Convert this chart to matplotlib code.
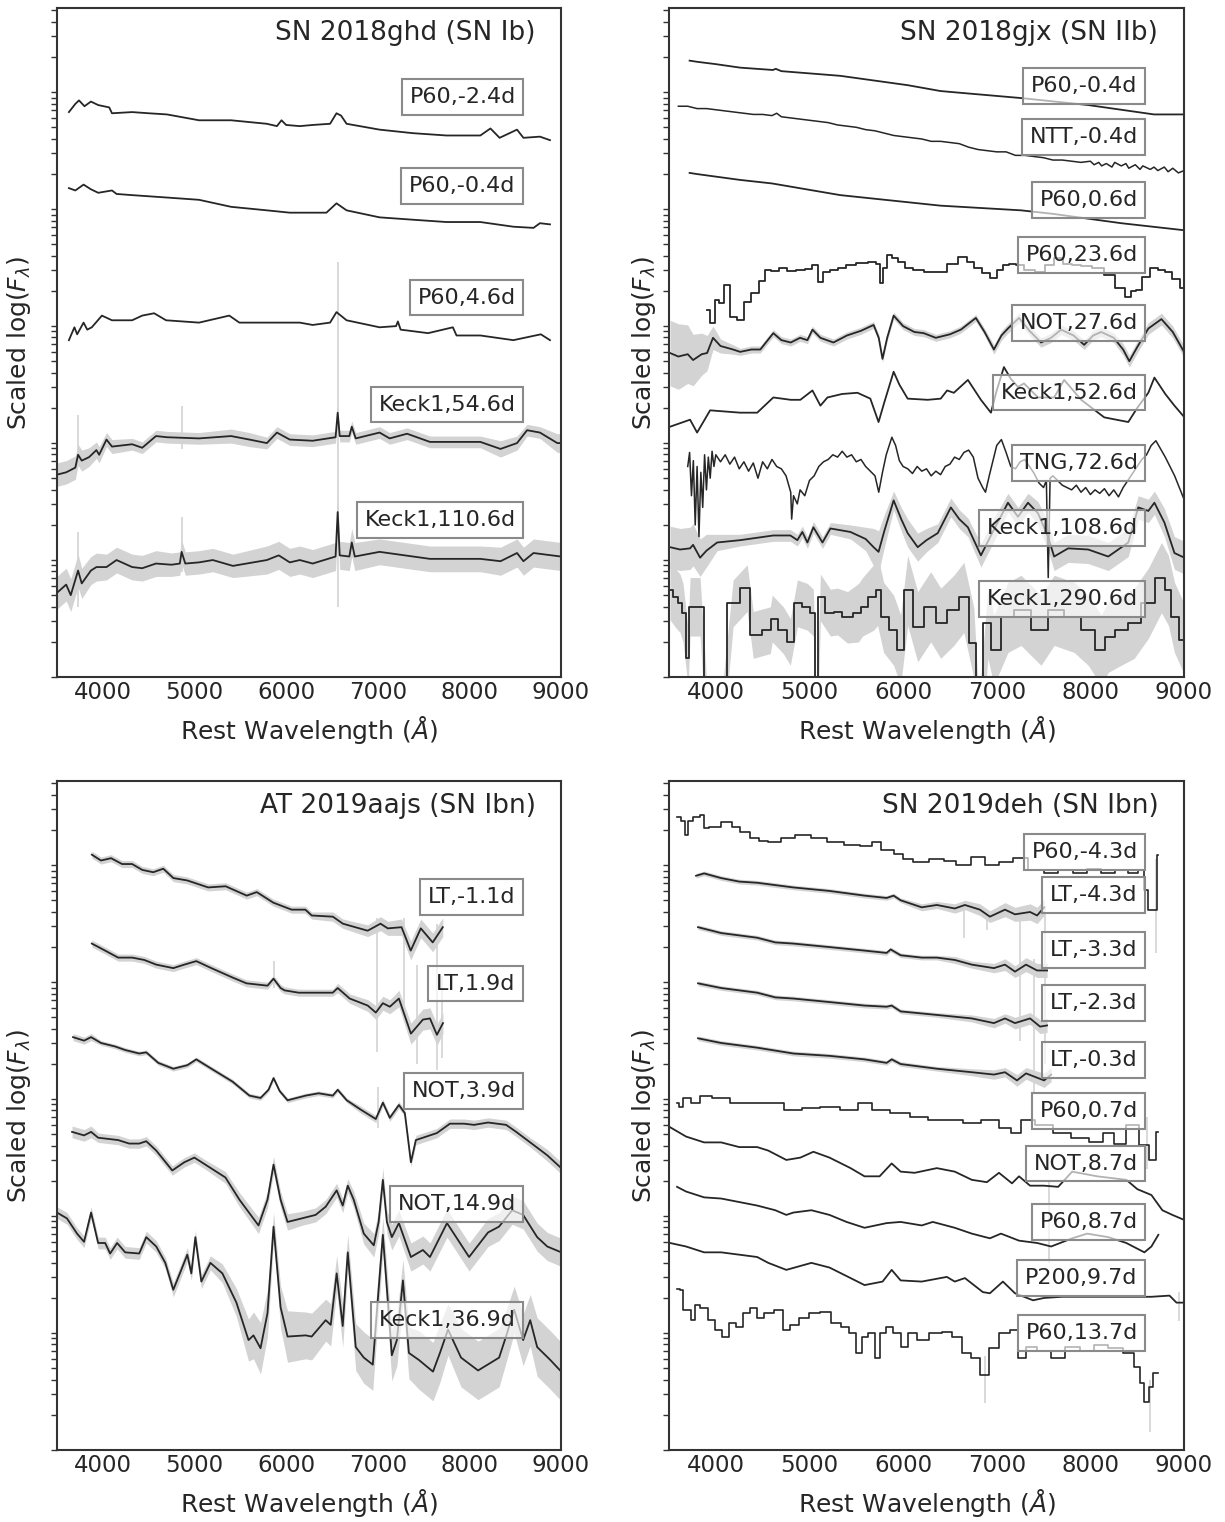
import matplotlib.pyplot as plt
import numpy as np
from matplotlib.ticker import LogLocator, NullFormatter

# Spectral sequences, log10 of the scaled flux.
# Rows are (rest wavelength [A], log flux) or
# (rest wavelength, log flux, scatter of the unbinned spectrum in dex).

# ---- SN 2018ghd (SN Ib) ----
ghd_p60_m24 = [(3630, 4.83), (3700, 4.90), (3740, 4.93), (3800, 4.88), (3870, 4.92), (3950, 4.89),
               (4070, 4.87), (4100, 4.82), (4320, 4.83), (4500, 4.82), (4700, 4.81), (5050, 4.76),
               (5400, 4.76), (5790, 4.73), (5900, 4.71), (5950, 4.76), (6000, 4.72), (6150, 4.71),
               (6290, 4.72), (6480, 4.73), (6550, 4.82), (6600, 4.80), (6660, 4.73), (7020, 4.68),
               (7380, 4.65), (7750, 4.63), (8120, 4.63), (8230, 4.69), (8330, 4.61), (8520, 4.68),
               (8590, 4.61), (8770, 4.62), (8880, 4.59)]
ghd_p60_m04 = [(3630, 4.18), (3700, 4.16), (3790, 4.21), (3870, 4.17), (3950, 4.14), (4100, 4.16),
               (4150, 4.13), (4320, 4.12), (4690, 4.10), (5050, 4.08), (5400, 4.02), (5790, 3.99),
               (6040, 3.97), (6290, 3.97), (6440, 3.97), (6550, 4.05), (6660, 3.99), (7020, 3.93),
               (7380, 3.91), (7750, 3.89), (8120, 3.89), (8480, 3.85), (8700, 3.84), (8770, 3.88),
               (8880, 3.87)]
ghd_p60_p46 = [(3630, 2.88), (3690, 2.99), (3720, 2.93), (3790, 3.03), (3830, 2.97), (3880, 2.99),
               (3990, 3.09), (4100, 3.05), (4320, 3.05), (4430, 3.09), (4560, 3.11), (4690, 3.05),
               (5050, 3.03), (5380, 3.09), (5490, 3.03), (5790, 3.03), (6150, 3.03), (6290, 3.01),
               (6480, 3.03), (6550, 3.12), (6660, 3.05), (7020, 2.99), (7200, 3.00), (7220, 3.04),
               (7250, 2.97), (7550, 2.94), (7820, 2.99), (7860, 2.92), (8120, 2.92), (8480, 2.88),
               (8780, 2.93), (8880, 2.88)]
ghd_keck1_546 = [(3500, 1.73, 0.10), (3600, 1.75, 0.10), (3700, 1.79, 0.10), (3730, 1.90, 0.09),
                 (3770, 1.85, 0.09), (3850, 1.88, 0.08), (3930, 1.94, 0.07), (3960, 1.90, 0.07),
                 (4040, 2.03, 0.06), (4100, 1.97, 0.06), (4320, 1.99, 0.05), (4430, 1.96, 0.05),
                 (4580, 2.06, 0.05), (4700, 2.05, 0.05), (5050, 2.04, 0.05), (5400, 2.06, 0.06),
                 (5600, 2.03, 0.06), (5790, 2.00, 0.05), (5900, 2.09, 0.05), (6040, 2.03, 0.05),
                 (6290, 2.02, 0.05), (6540, 2.05, 0.05), (6563, 2.26, 0.05), (6585, 2.06, 0.05),
                 (6690, 2.06, 0.05), (6717, 2.14, 0.05), (6760, 2.04, 0.05), (7020, 2.09, 0.05),
                 (7130, 2.04, 0.05), (7320, 2.08, 0.05), (7570, 2.01, 0.05), (8120, 2.01, 0.05),
                 (8340, 1.95, 0.07), (8520, 2.00, 0.06), (8630, 2.11, 0.05), (8770, 2.09, 0.05),
                 (8960, 2.00, 0.08), (9000, 2.00, 0.08)]
ghd_keck1_1106 = [(3500, 0.72, 0.14), (3600, 0.79, 0.14), (3650, 0.70, 0.14), (3730, 0.91, 0.14),
                  (3770, 0.80, 0.13), (3870, 0.91, 0.12), (3930, 0.94, 0.12), (4040, 0.94, 0.11),
                  (4150, 1.00, 0.11), (4320, 0.94, 0.11), (4430, 0.93, 0.11), (4580, 0.97, 0.11),
                  (4750, 0.96, 0.10), (4840, 0.97, 0.10), (4860, 1.07, 0.10), (4900, 0.97, 0.10),
                  (5050, 0.98, 0.10), (5200, 1.00, 0.10), (5420, 0.95, 0.10), (5790, 1.00, 0.12),
                  (5920, 1.04, 0.12), (6040, 0.98, 0.12), (6150, 1.00, 0.12), (6290, 0.97, 0.12),
                  (6540, 1.03, 0.12), (6563, 1.41, 0.12), (6585, 1.04, 0.12), (6690, 1.03, 0.12),
                  (6717, 1.15, 0.12), (6750, 1.03, 0.12), (7020, 1.07, 0.11), (7570, 1.01, 0.11),
                  (8120, 1.01, 0.11), (8340, 0.99, 0.12), (8520, 1.06, 0.12), (8590, 0.99, 0.12),
                  (8700, 1.06, 0.12), (9000, 1.03, 0.12)]
# narrow lines / bad pixels of the unbinned spectra: (wavelength, log low, log high)
ghd_narrow = [(6563, 2.10, 3.55), (6563, 0.60, 2.20), (3730, 1.80, 2.24), (4861, 1.95, 2.32),
              (3730, 0.60, 1.24), (4861, 0.90, 1.37)]

# ---- SN 2018gjx (SN IIb) ----
gjx_p60_m04 = [(3720, 5.27), (3800, 5.26), (4000, 5.24), (4260, 5.21), (4610, 5.19), (4640, 5.20),
               (4700, 5.18), (5330, 5.14), (6050, 5.06), (6400, 5.01), (6540, 5.00), (7260, 4.95),
               (7980, 4.89), (8680, 4.81), (9000, 4.81)]
gjx_ntt_m04 = [(3600, 4.88), (3700, 4.88), (3800, 4.86), (3900, 4.86), (4000, 4.85), (4100, 4.84),
               (4200, 4.83), (4300, 4.82), (4400, 4.81), (4500, 4.81), (4600, 4.80), (4650, 4.82),
               (4700, 4.79), (4800, 4.78), (4900, 4.77), (5000, 4.76), (5100, 4.75), (5200, 4.74),
               (5300, 4.72), (5400, 4.71), (5500, 4.70), (5600, 4.68), (5700, 4.67), (5800, 4.65),
               (5900, 4.63), (6000, 4.62), (6100, 4.61), (6200, 4.60), (6300, 4.58), (6400, 4.58),
               (6500, 4.57), (6600, 4.56), (6700, 4.53), (6800, 4.51), (6900, 4.50), (7000, 4.49),
               (7100, 4.49), (7200, 4.46), (7300, 4.46), (7400, 4.45), (7500, 4.44), (7600, 4.42),
               (7700, 4.42), (7800, 4.41), (7900, 4.40), (8000, 4.41), (8040, 4.38), (8090, 4.40),
               (8120, 4.37), (8170, 4.39), (8230, 4.36), (8260, 4.40), (8330, 4.37), (8380, 4.39),
               (8410, 4.35), (8480, 4.38), (8530, 4.34), (8560, 4.37), (8640, 4.34), (8680, 4.36),
               (8720, 4.33), (8790, 4.36), (8830, 4.32), (8880, 4.35), (8940, 4.31), (9000, 4.33)]
gjx_p60_p06 = [(3720, 4.31), (3800, 4.30), (4260, 4.25), (4600, 4.22), (5330, 4.12), (6400, 4.03),
               (7260, 3.99), (7600, 3.96), (8330, 3.88), (9000, 3.82)]
gjx_p60_p236 = [(3907, 3.14), (3971, 3.03), (4014, 3.22), (4060, 3.20), (4121, 3.35), (4185, 3.08),
                (4260, 3.05), (4335, 3.21), (4421, 3.28), (4507, 3.39), (4550, 3.48), (4630, 3.47),
                (4721, 3.50), (4803, 3.47), (4903, 3.48), (5000, 3.49), (5064, 3.52), (5117, 3.38),
                (5180, 3.46), (5256, 3.48), (5350, 3.50), (5438, 3.52), (5560, 3.54), (5685, 3.55),
                (5728, 3.53), (5771, 3.37), (5810, 3.50), (5846, 3.61), (5910, 3.58), (5974, 3.55),
                (6060, 3.50), (6156, 3.48), (6280, 3.46), (6402, 3.46), (6530, 3.53), (6649, 3.59),
                (6720, 3.55), (6799, 3.50), (6880, 3.45), (6970, 3.41), (7030, 3.48), (7099, 3.52),
                (7170, 3.53), (7238, 3.52), (7350, 3.48), (7473, 3.46), (7560, 3.52), (7655, 3.58),
                (7750, 3.53), (7848, 3.52), (7960, 3.51), (8083, 3.50), (8200, 3.44), (8330, 3.33),
                (8405, 3.25), (8460, 3.30), (8512, 3.31), (8600, 3.42), (8684, 3.50), (8760, 3.48),
                (8834, 3.46), (8920, 3.40), (9000, 3.33)]
gjx_not_276 = [(3511, 2.77, 0.28), (3600, 2.74, 0.28), (3700, 2.76, 0.25), (3757, 2.71, 0.22),
               (3850, 2.76, 0.18), (3907, 2.77, 0.15), (3970, 2.90, 0.10), (4050, 2.83, 0.06),
               (4185, 2.80, 0.04), (4260, 2.78, 0.03), (4380, 2.80, 0.03), (4475, 2.80, 0.03),
               (4614, 2.94, 0.03), (4700, 2.88, 0.03), (4800, 2.86, 0.03), (4900, 2.90, 0.03),
               (4978, 2.88, 0.03), (5032, 2.97, 0.03), (5117, 2.90, 0.03), (5256, 2.86, 0.03),
               (5400, 2.92, 0.03), (5550, 2.96, 0.03), (5685, 3.01, 0.03), (5740, 2.90, 0.03),
               (5780, 2.72, 0.03), (5830, 2.90, 0.03), (5899, 3.09, 0.03), (6000, 3.00, 0.03),
               (6120, 2.95, 0.03), (6220, 2.94, 0.03), (6349, 2.90, 0.03), (6500, 2.93, 0.03),
               (6617, 2.97, 0.03), (6777, 3.07, 0.03), (6870, 2.95, 0.03), (6970, 2.80, 0.04),
               (7050, 2.92, 0.04), (7120, 2.98, 0.04), (7238, 3.07, 0.04), (7350, 2.96, 0.04),
               (7473, 2.86, 0.04), (7580, 2.90, 0.04), (7688, 2.97, 0.04), (7820, 2.92, 0.04),
               (7934, 2.84, 0.04), (8030, 2.92, 0.04), (8116, 2.95, 0.04), (8250, 2.90, 0.04),
               (8350, 2.80, 0.05), (8416, 2.70, 0.05), (8500, 2.82, 0.05), (8620, 2.98, 0.05),
               (8759, 3.06, 0.05), (8880, 2.95, 0.05), (9000, 2.78, 0.05)]
gjx_keck1_526 = [(3511, 2.14), (3725, 2.20), (3800, 2.09), (3939, 2.28), (4100, 2.27), (4260, 2.26),
                 (4442, 2.26), (4614, 2.39), (4800, 2.37), (4903, 2.37), (5032, 2.45), (5117, 2.32),
                 (5192, 2.39), (5350, 2.42), (5513, 2.43), (5650, 2.38), (5738, 2.18), (5800, 2.35),
                 (5899, 2.61), (5960, 2.50), (6049, 2.38), (6263, 2.37), (6402, 2.38), (6470, 2.45),
                 (6542, 2.43), (6692, 2.54), (6831, 2.37), (6938, 2.26), (7000, 2.45), (7077, 2.65),
                 (7150, 2.55), (7227, 2.48), (7291, 2.51), (7441, 2.39), (7613, 2.39), (7720, 2.54),
                 (7902, 2.37), (8148, 2.22), (8405, 2.18), (8500, 2.30), (8619, 2.43), (8684, 2.56),
                 (8800, 2.42), (8898, 2.32), (9005, 2.22)]
gjx_tng_726 = [(3700, 1.80), (3720, 1.92), (3740, 1.55), (3760, 1.85), (3780, 1.30), (3800, 1.80),
               (3820, 1.20), (3840, 1.75), (3860, 1.45), (3880, 1.90), (3900, 1.60), (3920, 1.88),
               (3940, 1.70), (3960, 1.93), (3980, 1.80), (4000, 1.90), (4050, 1.84), (4100, 1.90),
               (4150, 1.82), (4200, 1.88), (4250, 1.78), (4300, 1.84), (4350, 1.76), (4400, 1.83),
               (4450, 1.70), (4500, 1.84), (4550, 1.78), (4600, 1.86), (4650, 1.80), (4700, 1.78),
               (4750, 1.72), (4800, 1.58), (4810, 1.35), (4830, 1.55), (4870, 1.48), (4900, 1.60),
               (4950, 1.55), (5000, 1.68), (5050, 1.72), (5100, 1.80), (5150, 1.84), (5200, 1.86),
               (5250, 1.90), (5300, 1.88), (5350, 1.93), (5400, 1.88), (5450, 1.90), (5500, 1.84),
               (5550, 1.86), (5600, 1.80), (5650, 1.76), (5700, 1.72), (5740, 1.58), (5780, 1.75),
               (5820, 1.90), (5880, 2.05), (5920, 1.98), (5960, 1.85), (6000, 1.80), (6050, 1.78),
               (6100, 1.74), (6150, 1.80), (6200, 1.76), (6250, 1.78), (6300, 1.72), (6350, 1.76),
               (6400, 1.73), (6450, 1.80), (6500, 1.82), (6550, 1.88), (6600, 1.86), (6650, 1.92),
               (6700, 1.94), (6750, 1.88), (6800, 1.70), (6850, 1.62), (6880, 1.58), (6920, 1.72),
               (6960, 1.85), (7000, 1.98), (7050, 2.03), (7100, 1.92), (7150, 1.80), (7200, 1.78),
               (7250, 1.84), (7300, 1.86), (7350, 1.80), (7400, 1.74), (7450, 1.66), (7500, 1.62),
               (7530, 1.68), (7550, 0.85), (7570, 1.70), (7600, 1.72), (7650, 1.68), (7700, 1.64),
               (7750, 1.62), (7800, 1.60), (7850, 1.64), (7900, 1.58), (7950, 1.62), (8000, 1.56),
               (8050, 1.60), (8100, 1.57), (8150, 1.61), (8200, 1.55), (8250, 1.60), (8300, 1.54),
               (8350, 1.62), (8400, 1.68), (8450, 1.74), (8500, 1.80), (8550, 1.86), (8600, 1.90),
               (8650, 1.98), (8700, 2.02), (8750, 1.95), (8800, 1.88), (8850, 1.80), (8900, 1.72),
               (8950, 1.62), (9000, 1.52)]
gjx_keck1_1086 = [(3511, 1.11, 0.18), (3618, 1.09, 0.18), (3725, 1.10, 0.18), (3757, 1.13, 0.18),
                  (3832, 1.02, 0.16), (3900, 1.08, 0.14), (4014, 1.15, 0.07), (4260, 1.17, 0.05),
                  (4614, 1.21, 0.05), (4796, 1.21, 0.05), (4871, 1.17, 0.05), (4924, 1.24, 0.05),
                  (4978, 1.15, 0.05), (5042, 1.28, 0.05), (5139, 1.15, 0.05), (5224, 1.27, 0.05),
                  (5438, 1.24, 0.06), (5600, 1.18, 0.10), (5685, 1.11, 0.16), (5738, 1.07, 0.18),
                  (5800, 1.25, 0.14), (5899, 1.51, 0.08), (5980, 1.35, 0.10), (6049, 1.23, 0.12),
                  (6156, 1.11, 0.12), (6250, 1.17, 0.10), (6370, 1.23, 0.08), (6510, 1.45, 0.08),
                  (6600, 1.35, 0.08), (6692, 1.28, 0.08), (6831, 1.04, 0.10), (6970, 1.26, 0.10),
                  (7120, 1.49, 0.08), (7227, 1.37, 0.08), (7334, 1.49, 0.08), (7441, 1.40, 0.10),
                  (7548, 1.20, 0.12), (7613, 1.03, 0.12), (7763, 1.10, 0.12), (7977, 1.09, 0.12),
                  (8191, 1.03, 0.12), (8405, 1.15, 0.12), (8512, 1.45, 0.10), (8619, 1.42, 0.10),
                  (8684, 1.49, 0.10), (8791, 1.32, 0.12), (8898, 1.06, 0.14), (9005, 1.02, 0.14)]
gjx_keck1_2906 = [(3511, 0.74, 0.25), (3564, 0.68, 0.25), (3618, 0.63, 0.25), (3650, 0.55, 0.25),
                  (3704, 0.16, 0.25), (3725, 0.60, 0.25), (3832, 0.60, 0.25), (3918, -0.50, 0.25),
                  (4050, -0.50, 0.25), (4185, 0.63, 0.20), (4335, 0.76, 0.20), (4400, 0.36, 0.20),
                  (4582, 0.40, 0.20), (4603, 0.50, 0.20), (4721, 0.40, 0.20), (4796, 0.30, 0.20),
                  (4871, 0.63, 0.20), (4978, 0.60, 0.20), (5042, 0.55, 0.20), (5074, -0.50, 0.20),
                  (5117, 0.68, 0.20), (5224, 0.55, 0.20), (5299, 0.56, 0.20), (5406, 0.51, 0.22),
                  (5524, 0.55, 0.25), (5567, 0.60, 0.25), (5685, 0.68, 0.28), (5728, 0.74, 0.30),
                  (5792, 0.51, 0.30), (5899, 0.40, 0.30), (5974, 0.23, 0.30), (6049, 0.74, 0.30),
                  (6156, 0.43, 0.30), (6295, 0.60, 0.30), (6402, 0.46, 0.30), (6542, 0.57, 0.30),
                  (6649, 0.68, 0.30), (6756, 0.29, 0.30), (6809, -0.50, 0.30), (6906, 0.46, 0.30),
                  (6970, 0.23, 0.30), (7120, 0.51, 0.30), (7259, 0.57, 0.30), (7473, 0.40, 0.30),
                  (7613, 0.57, 0.30), (7827, 0.51, 0.30), (7977, 0.40, 0.30), (8116, 0.23, 0.30),
                  (8191, 0.34, 0.30), (8330, 0.40, 0.30), (8469, 0.46, 0.30), (8619, 0.63, 0.30),
                  (8759, 0.85, 0.30), (8834, 0.74, 0.30), (8898, 0.51, 0.30), (9005, 0.32, 0.30)]

# ---- AT 2019aajs (SN Ibn) ----
aajs_lt_m11 = [(3880, 5.09, 0.03), (3980, 5.04, 0.03), (4090, 5.06, 0.03), (4210, 5.01, 0.03),
               (4320, 5.01, 0.03), (4430, 4.96, 0.03), (4550, 4.94, 0.03), (4660, 4.97, 0.03),
               (4770, 4.89, 0.03), (4920, 4.87, 0.03), (5150, 4.81, 0.03), (5340, 4.82, 0.03),
               (5570, 4.74, 0.03), (5680, 4.77, 0.03), (5860, 4.68, 0.03), (6060, 4.62, 0.03),
               (6210, 4.62, 0.03), (6280, 4.57, 0.03), (6510, 4.56, 0.04), (6620, 4.50, 0.04),
               (6890, 4.44, 0.05), (7030, 4.50, 0.06), (7110, 4.46, 0.06), (7260, 4.47, 0.07),
               (7360, 4.27, 0.08), (7470, 4.46, 0.08), (7600, 4.34, 0.08), (7710, 4.47, 0.08)]
aajs_lt_p19 = [(3880, 4.33, 0.03), (4025, 4.27, 0.03), (4167, 4.21, 0.03), (4321, 4.21, 0.03),
               (4452, 4.19, 0.03), (4583, 4.15, 0.03), (4769, 4.12, 0.03), (4889, 4.15, 0.03),
               (5020, 4.18, 0.03), (5185, 4.12, 0.03), (5415, 4.04, 0.03), (5568, 3.99, 0.03),
               (5797, 3.97, 0.03), (5863, 4.03, 0.03), (5940, 3.95, 0.03), (5983, 3.93, 0.03),
               (6137, 3.91, 0.03), (6509, 3.91, 0.03), (6563, 3.95, 0.04), (6694, 3.86, 0.04),
               (6891, 3.80, 0.05), (6979, 3.74, 0.06), (7056, 3.82, 0.06), (7132, 3.79, 0.06),
               (7231, 3.86, 0.07), (7362, 3.56, 0.09), (7493, 3.68, 0.09), (7570, 3.69, 0.09),
               (7646, 3.55, 0.09), (7712, 3.65, 0.09)]
aajs_not_39 = [(3675, 3.53, 0.03), (3795, 3.50, 0.03), (3872, 3.53, 0.03), (3981, 3.48, 0.02),
               (4135, 3.45, 0.02), (4244, 3.42, 0.02), (4397, 3.39, 0.02), (4474, 3.40, 0.02),
               (4605, 3.31, 0.02), (4769, 3.26, 0.02), (4922, 3.29, 0.02), (5020, 3.34, 0.02),
               (5185, 3.26, 0.02), (5415, 3.15, 0.02), (5600, 3.03, 0.02), (5721, 3.01, 0.02),
               (5808, 3.08, 0.02), (5863, 3.18, 0.02), (5929, 3.07, 0.02), (6016, 2.99, 0.02),
               (6213, 3.03, 0.02), (6355, 3.05, 0.02), (6509, 3.03, 0.02), (6563, 3.08, 0.02),
               (6662, 2.99, 0.02), (6815, 2.91, 0.03), (6979, 2.83, 0.03), (7056, 2.97, 0.03),
               (7132, 2.84, 0.03), (7231, 2.95, 0.03), (7296, 2.88, 0.03), (7362, 2.46, 0.04),
               (7416, 2.65, 0.04), (7646, 2.71, 0.04), (7788, 2.79, 0.04), (7942, 2.79, 0.04),
               (8051, 2.78, 0.04), (8204, 2.80, 0.04), (8401, 2.78, 0.04), (8511, 2.72, 0.04),
               (8664, 2.63, 0.04), (8850, 2.52, 0.05), (9003, 2.41, 0.05)]
aajs_not_149 = [(3664, 2.72, 0.05), (3795, 2.69, 0.05), (3872, 2.72, 0.05), (3949, 2.67, 0.04),
                (4167, 2.65, 0.04), (4288, 2.62, 0.04), (4397, 2.62, 0.04), (4474, 2.64, 0.04),
                (4583, 2.56, 0.04), (4758, 2.39, 0.04), (4889, 2.46, 0.04), (4999, 2.50, 0.04),
                (5119, 2.44, 0.04), (5338, 2.33, 0.05), (5491, 2.14, 0.06), (5699, 1.92, 0.07),
                (5797, 2.14, 0.07), (5863, 2.44, 0.07), (5940, 2.14, 0.07), (6016, 1.95, 0.07),
                (6170, 1.98, 0.06), (6322, 2.01, 0.06), (6432, 2.08, 0.06), (6552, 2.22, 0.06),
                (6618, 2.09, 0.06), (6673, 2.26, 0.06), (6738, 2.14, 0.07), (6848, 1.85, 0.09),
                (6957, 1.75, 0.10), (7010, 1.95, 0.10), (7056, 2.31, 0.10), (7100, 1.95, 0.10),
                (7154, 1.82, 0.11), (7231, 1.94, 0.11), (7362, 1.65, 0.12), (7493, 1.71, 0.12),
                (7570, 1.65, 0.12), (7756, 1.94, 0.12), (7997, 1.65, 0.12), (8204, 1.86, 0.12),
                (8324, 1.91, 0.12), (8467, 2.05, 0.12), (8587, 2.01, 0.12), (8740, 1.82, 0.12),
                (8850, 1.74, 0.12), (9003, 1.69, 0.12)]
aajs_keck1_369 = [(3500, 2.03, 0.05), (3609, 1.98, 0.05), (3719, 1.85, 0.05), (3795, 1.78, 0.05),
                  (3872, 2.03, 0.05), (3949, 1.77, 0.05), (4025, 1.77, 0.05), (4080, 1.68, 0.05),
                  (4156, 1.77, 0.05), (4244, 1.69, 0.05), (4397, 1.68, 0.05), (4474, 1.82, 0.05),
                  (4583, 1.74, 0.05), (4682, 1.60, 0.05), (4769, 1.37, 0.06), (4846, 1.52, 0.06),
                  (4922, 1.67, 0.06), (4966, 1.51, 0.06), (5010, 1.82, 0.06), (5075, 1.44, 0.06),
                  (5174, 1.60, 0.06), (5305, 1.51, 0.08), (5458, 1.26, 0.12), (5590, 0.94, 0.18),
                  (5644, 0.98, 0.20), (5721, 0.87, 0.22), (5797, 1.17, 0.20), (5863, 1.91, 0.12),
                  (5940, 1.22, 0.18), (6016, 0.97, 0.22), (6213, 0.98, 0.20), (6279, 0.97, 0.20),
                  (6432, 1.11, 0.18), (6487, 1.07, 0.18), (6552, 1.51, 0.15), (6618, 1.06, 0.18),
                  (6673, 1.69, 0.15), (6760, 0.88, 0.20), (6848, 0.79, 0.22), (6946, 0.73, 0.22),
                  (7056, 1.84, 0.15), (7154, 0.81, 0.22), (7209, 0.94, 0.22), (7275, 1.45, 0.18),
                  (7340, 0.83, 0.22), (7449, 0.77, 0.25), (7603, 0.67, 0.25), (7679, 0.83, 0.25),
                  (7767, 1.03, 0.22), (7909, 0.79, 0.25), (8095, 0.68, 0.25), (8325, 0.79, 0.25),
                  (8412, 1.00, 0.22), (8489, 1.20, 0.20), (8587, 0.94, 0.22), (8664, 1.11, 0.22),
                  (8740, 0.88, 0.25), (8883, 0.77, 0.25), (9003, 0.67, 0.25)]
aajs_narrow = [(6990, 3.40, 4.55), (7290, 3.70, 4.55), (7430, 3.30, 4.15), (7650, 3.25, 4.50),
               (7700, 3.35, 4.05), (5865, 3.95, 4.18), (7000, 2.75, 3.10)]

# ---- SN 2019deh (SN Ibn) ----
deh_p60_m43 = [(3586, 5.41), (3661, 5.38), (3682, 5.26), (3714, 5.38), (3789, 5.41), (3864, 5.43),
               (3875, 5.32), (3982, 5.33), (4121, 5.37), (4218, 5.33), (4293, 5.28), (4442, 5.23),
               (4485, 5.21), (4635, 5.20), (4753, 5.23), (4946, 5.26), (5096, 5.23), (5289, 5.20),
               (5439, 5.17), (5631, 5.16), (5706, 5.20), (5824, 5.13), (5974, 5.10), (6017, 5.05),
               (6199, 5.03), (6360, 5.05), (6510, 5.04), (6627, 5.00), (6820, 5.07), (6927, 5.00),
               (7120, 5.03), (7238, 5.06), (7431, 4.96), (7581, 4.93), (7731, 4.96), (7891, 4.93),
               (8041, 4.97), (8191, 4.93), (8341, 4.96), (8459, 4.93), (8555, 4.96), (8598, 4.79),
               (8630, 4.62), (8694, 4.62), (8726, 5.09)]
deh_lt_m43 = [(3789, 4.91, 0.02), (3875, 4.93, 0.02), (4057, 4.89, 0.02), (4250, 4.86, 0.02),
              (4442, 4.85, 0.02), (4635, 4.83, 0.02), (4828, 4.81, 0.02), (5214, 4.78, 0.02),
              (5588, 4.74, 0.02), (5824, 4.72, 0.02), (5899, 4.74, 0.02), (5974, 4.70, 0.02),
              (6199, 4.64, 0.03), (6360, 4.66, 0.03), (6552, 4.63, 0.04), (6660, 4.66, 0.04),
              (6820, 4.62, 0.05), (6927, 4.56, 0.05), (7088, 4.62, 0.06), (7195, 4.58, 0.06),
              (7356, 4.60, 0.07), (7431, 4.57, 0.07), (7506, 4.64, 0.07)]
deh_lt_m33 = [(3810, 4.47, 0.02), (4057, 4.42, 0.02), (4442, 4.38, 0.02), (4635, 4.34, 0.02),
              (4828, 4.33, 0.02), (5214, 4.30, 0.02), (5588, 4.27, 0.02), (5824, 4.25, 0.02),
              (5867, 4.28, 0.02), (5974, 4.23, 0.02), (6199, 4.21, 0.02), (6360, 4.21, 0.02),
              (6552, 4.19, 0.03), (6734, 4.15, 0.03), (6970, 4.12, 0.04), (7088, 4.15, 0.05),
              (7195, 4.09, 0.05), (7313, 4.15, 0.06), (7431, 4.10, 0.06), (7538, 4.10, 0.06)]
deh_lt_m23 = [(3810, 3.99, 0.02), (4057, 3.95, 0.02), (4442, 3.91, 0.02), (4635, 3.87, 0.02),
              (4828, 3.86, 0.02), (5214, 3.83, 0.02), (5588, 3.80, 0.02), (5824, 3.79, 0.02),
              (5878, 3.80, 0.02), (5974, 3.75, 0.02), (6360, 3.72, 0.02), (6734, 3.69, 0.03),
              (6970, 3.65, 0.04), (7088, 3.69, 0.04), (7195, 3.65, 0.05), (7356, 3.69, 0.05),
              (7463, 3.62, 0.06), (7538, 3.63, 0.06)]
deh_lt_m03 = [(3810, 3.52, 0.02), (4057, 3.48, 0.02), (4442, 3.44, 0.02), (4828, 3.39, 0.02),
              (5214, 3.37, 0.02), (5588, 3.34, 0.02), (5824, 3.31, 0.02), (5878, 3.34, 0.02),
              (5974, 3.30, 0.02), (6360, 3.26, 0.02), (6734, 3.23, 0.03), (6970, 3.21, 0.04),
              (7088, 3.23, 0.04), (7216, 3.16, 0.05), (7313, 3.22, 0.05), (7506, 3.16, 0.06),
              (7581, 3.21, 0.06)]
deh_p60_p07 = [(3586, 2.97), (3618, 2.93), (3682, 3.01), (3789, 2.97), (3864, 3.03), (4057, 3.01),
               (4250, 2.97), (4442, 2.97), (4635, 2.97), (4828, 2.91), (5021, 2.92), (5214, 2.93),
               (5439, 2.91), (5588, 2.97), (5749, 2.91), (5974, 2.88), (6167, 2.85), (6360, 2.82),
               (6552, 2.82), (6734, 2.80), (6927, 2.82), (7120, 2.75), (7195, 2.71), (7313, 2.82),
               (7506, 2.78), (7698, 2.71), (7891, 2.67), (8073, 2.63), (8191, 2.71), (8309, 2.62),
               (8459, 2.78), (8577, 2.61), (8673, 2.48), (8726, 2.72)]
deh_not_87 = [(3511, 2.76), (3682, 2.68), (3875, 2.63), (4057, 2.63), (4250, 2.59), (4442, 2.59),
              (4560, 2.56), (4753, 2.48), (4903, 2.50), (5042, 2.55), (5214, 2.50), (5439, 2.41),
              (5588, 2.34), (5749, 2.34), (5878, 2.45), (5974, 2.38), (6124, 2.37), (6360, 2.41),
              (6552, 2.38), (6734, 2.31), (6895, 2.29), (7024, 2.37), (7163, 2.28), (7238, 2.34),
              (7356, 2.26), (7506, 2.26), (7656, 2.25), (7806, 2.38), (8073, 2.34), (8384, 2.31),
              (8502, 2.23), (8652, 2.18), (8769, 2.05), (8876, 2.01), (8994, 1.97)]
deh_p60_p87 = [(3586, 2.25), (3682, 2.21), (3875, 2.16), (4057, 2.15), (4250, 2.12), (4442, 2.09),
               (4635, 2.05), (4753, 2.01), (4828, 2.03), (5021, 2.05), (5214, 2.01), (5396, 1.95),
               (5588, 1.90), (5824, 1.94), (5974, 1.95), (6199, 1.92), (6317, 1.95), (6552, 1.90),
               (6734, 1.85), (6927, 1.81), (7045, 1.85), (7238, 1.79), (7431, 1.77), (7581, 1.74),
               (7806, 1.81), (7966, 1.85), (8191, 1.82), (8384, 1.77), (8577, 1.69), (8652, 1.74),
               (8726, 1.84)]
deh_p200_97 = [(3511, 1.77), (3682, 1.74), (3875, 1.69), (4057, 1.69), (4250, 1.67), (4442, 1.65),
               (4560, 1.60), (4753, 1.54), (5021, 1.60), (5214, 1.56), (5439, 1.47), (5588, 1.41),
               (5781, 1.44), (5878, 1.54), (5974, 1.45), (6199, 1.44), (6467, 1.48), (6552, 1.44),
               (6660, 1.47), (6852, 1.35), (6927, 1.34), (7066, 1.44), (7195, 1.34), (7388, 1.28),
               (7506, 1.30), (7698, 1.31), (7891, 1.31), (8266, 1.31), (8652, 1.31), (8845, 1.32),
               (8920, 1.26), (8994, 1.26)]
deh_p60_p137 = [(3586, 1.38), (3639, 1.37), (3660, 1.20), (3714, 1.20), (3757, 1.11), (3789, 1.24),
                (3875, 1.21), (3950, 1.11), (4025, 1.03), (4100, 0.97), (4175, 1.09), (4250, 1.05),
                (4325, 1.17), (4410, 1.21), (4464, 1.13), (4560, 1.17), (4678, 1.20), (4753, 1.03),
                (4828, 1.07), (4946, 1.13), (5053, 1.17), (5171, 1.18), (5289, 1.09), (5385, 1.05),
                (5460, 1.00), (5535, 0.83), (5588, 0.97), (5663, 1.00), (5728, 0.79), (5781, 1.00),
                (5845, 1.05), (5931, 1.00), (6017, 0.88), (6092, 1.00), (6199, 0.94), (6360, 1.00),
                (6467, 1.01), (6584, 0.97), (6681, 0.83), (6777, 0.79), (6874, 0.64), (6970, 0.87),
                (7088, 1.00), (7195, 1.03), (7259, 0.79), (7356, 0.88), (7506, 0.85), (7656, 0.79),
                (7806, 0.88), (7966, 0.85), (8116, 0.90), (8266, 0.87), (8427, 0.83), (8502, 0.71),
                (8555, 0.57), (8598, 0.41), (8652, 0.54), (8694, 0.66), (8726, 0.66)]
deh_narrow = [(6650, 4.38, 4.66), (6900, 4.45, 4.62), (7250, 3.50, 4.62), (7400, 3.05, 4.20),
              (7520, 3.30, 4.65), (8700, 4.25, 5.05), (8600, 2.40, 2.85), (7560, 1.60, 2.30),
              (6880, 0.40, 0.80), (8640, 0.15, 0.60), (8950, 1.10, 1.35)]

INK = '#262626'
RAW = '#d3d3d3'
PX_W, PX_H = 1225, 1522


def draw_spectrum(ax, spec, steps=False, lw=1.3):
    arr = np.asarray(spec, dtype=float)
    wave, logf = arr[:, 0], arr[:, 1]
    if arr.shape[1] == 3:
        # spread of the unbinned spectrum behind the binned trace
        ax.fill_between(wave, 10 ** (logf - arr[:, 2]), 10 ** (logf + arr[:, 2]),
                        color=RAW, lw=0, zorder=1)
    ax.plot(wave, 10 ** logf, color=INK, lw=lw,
            drawstyle='steps-mid' if steps else 'default', zorder=2)


def make_axes(fig, left, top, right, bottom):
    return fig.add_axes([left / PX_W, 1 - bottom / PX_H,
                         (right - left) / PX_W, (bottom - top) / PX_H])


fig = plt.figure(figsize=(12.25, 15.22), dpi=100)

# (pixel box, title, spectra as (label, data, steps, linewidth, label height in axes fraction))
panels = [
    ((57, 8, 561, 677), 'SN 2018ghd (SN Ib)', [
        ('P60,-2.4d', ghd_p60_m24, False, 1.3, 0.867),
        ('P60,-0.4d', ghd_p60_m04, False, 1.3, 0.734),
        ('P60,4.6d', ghd_p60_p46, False, 1.3, 0.567),
        ('Keck1,54.6d', ghd_keck1_546, False, 1.3, 0.407),
        ('Keck1,110.6d', ghd_keck1_1106, False, 1.3, 0.235),
    ], ghd_narrow, -0.048),
    ((669, 8, 1184, 677), 'SN 2018gjx (SN IIb)', [
        ('P60,-0.4d', gjx_p60_m04, False, 1.3, 0.883),
        ('NTT,-0.4d', gjx_ntt_m04, False, 1.1, 0.807),
        ('P60,0.6d', gjx_p60_p06, False, 1.3, 0.713),
        ('P60,23.6d', gjx_p60_p236, True, 1.3, 0.631),
        ('NOT,27.6d', gjx_not_276, False, 1.3, 0.529),
        ('Keck1,52.6d', gjx_keck1_526, False, 1.3, 0.425),
        ('TNG,72.6d', gjx_tng_726, False, 1.1, 0.320),
        ('Keck1,108.6d', gjx_keck1_1086, False, 1.3, 0.223),
        ('Keck1,290.6d', gjx_keck1_2906, True, 1.3, 0.117),
    ], [], -0.022),
    ((57, 781, 561, 1450), 'AT 2019aajs (SN Ibn)', [
        ('LT,-1.1d', aajs_lt_m11, False, 1.3, 0.827),
        ('LT,1.9d', aajs_lt_p19, False, 1.3, 0.697),
        ('NOT,3.9d', aajs_not_39, False, 1.3, 0.537),
        ('NOT,14.9d', aajs_not_149, False, 1.3, 0.368),
        ('Keck1,36.9d', aajs_keck1_369, False, 1.3, 0.194),
    ], aajs_narrow, -0.048),
    ((669, 781, 1184, 1450), 'SN 2019deh (SN Ibn)', [
        ('P60,-4.3d', deh_p60_m43, True, 1.2, 0.894),
        ('LT,-4.3d', deh_lt_m43, False, 1.3, 0.830),
        ('LT,-3.3d', deh_lt_m33, False, 1.3, 0.747),
        ('LT,-2.3d', deh_lt_m23, False, 1.3, 0.668),
        ('LT,-0.3d', deh_lt_m03, False, 1.3, 0.583),
        ('P60,0.7d', deh_p60_p07, True, 1.2, 0.507),
        ('NOT,8.7d', deh_not_87, False, 1.3, 0.428),
        ('P60,8.7d', deh_p60_p87, False, 1.3, 0.341),
        ('P200,9.7d', deh_p200_97, False, 1.3, 0.257),
        ('P60,13.7d', deh_p60_p137, True, 1.2, 0.175),
    ], deh_narrow, -0.022),
]

for box, title, spectra, narrow, ylab_x in panels:
    ax = make_axes(fig, *box)
    for wl, lo, hi in narrow:
        ax.vlines(wl, 10 ** lo, 10 ** hi, color=RAW, lw=1.2, zorder=1)
    for label, data, steps, lw, ylab in spectra:
        draw_spectrum(ax, data, steps=steps, lw=lw)
        ax.text(0.91, ylab, label, transform=ax.transAxes, ha='right', va='center',
                fontsize=16, color=INK, zorder=5,
                bbox=dict(boxstyle='square,pad=0.35', fc=(1, 1, 1, 0.65),
                          ec='#8a8a8a', lw=1.5))

    ax.text(0.95, 0.963, title, transform=ax.transAxes, ha='right', va='center',
            fontsize=19, color=INK)

    ax.set_xlim(3500, 9000)
    ax.set_yscale('log')
    ax.set_ylim(1, 10 ** 5.72)
    ax.set_xticks([4000, 5000, 6000, 7000, 8000, 9000])
    ax.yaxis.set_major_locator(LogLocator(base=10, numticks=20))
    ax.yaxis.set_minor_locator(LogLocator(base=10, subs=np.arange(2, 10), numticks=20))
    ax.yaxis.set_minor_formatter(NullFormatter())
    ax.tick_params(axis='x', length=0, labelsize=16.5, pad=3, colors=INK)
    ax.tick_params(axis='y', which='both', length=4, width=1, labelleft=False, colors='#333333')
    ax.set_xlabel('Rest Wavelength ($\\AA$)', fontsize=18, color=INK, labelpad=7)
    ax.set_ylabel('Scaled log($F_\\lambda$)', fontsize=18, color=INK)
    ax.yaxis.set_label_coords(ylab_x, 0.5)
    for sp in ax.spines.values():
        sp.set_color('#333333')
        sp.set_linewidth(1.5)

fig.savefig('out.png', dpi=100)
